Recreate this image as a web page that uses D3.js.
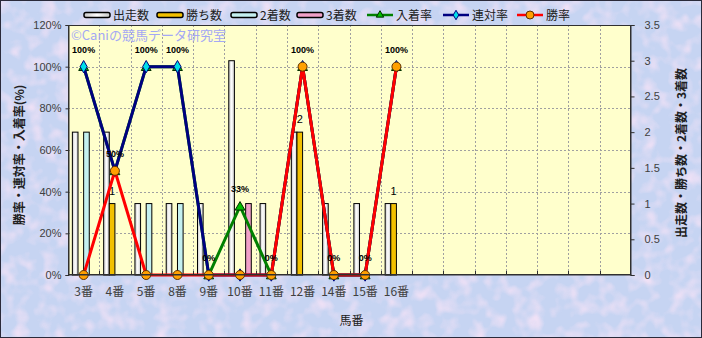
<!DOCTYPE html>
<html>
<head>
<meta charset="utf-8">
<script src="https://cdn.jsdelivr.net/npm/d3@7"></script>
<style>
  body { margin: 0; }
  svg text { font-family: "Liberation Sans", Arial, sans-serif; }
  .jp { font-family: "Noto Sans CJK JP", sans-serif; }
</style>
</head>
<body>
<div id="chart"></div>
<script>
// data
var categories = ["3番", "4番", "5番", "8番", "9番", "10番", "11番", "12番", "14番", "15番", "16番"];
var slotCount = 18;
var starts  = [2, 2, 1, 1, 1, 3, 1, 2, 1, 1, 1];   // 出走数
var wins    = [0, 1, 0, 0, 0, 0, 0, 2, 0, 0, 1];   // 勝ち数
var seconds = [2, 0, 1, 1, 0, 0, 0, 0, 0, 0, 0];   // 2着数
var thirds  = [0, 0, 0, 0, 0, 1, 0, 0, 0, 0, 0];   // 3着数
var placeRate = [100, 50, 100, 100, 0, 33, 0, 100, 0, 0, 100]; // 入着率
var quinRate  = [100, 50, 100, 100, 0, 0, 0, 100, 0, 0, 100];  // 連対率
var winRate   = [0, 50, 0, 0, 0, 0, 0, 100, 0, 0, 100];        // 勝率
var leftTicks = [0, 20, 40, 60, 80, 100, 120];
var rightTicks = [0, 0.5, 1, 1.5, 2, 2.5, 3, 3.5];

var W = 702, H = 338;
var plot = {l: 68, r: 631, t: 25, b: 275};

var svg = d3.select("#chart").append("svg")
  .attr("width", W).attr("height", H);

var defs = svg.append("defs");
var tex = defs.append("filter").attr("id", "tex").attr("x", 0).attr("y", 0).attr("width", 1).attr("height", 1);
tex.append("feTurbulence").attr("type", "fractalNoise").attr("baseFrequency", 0.07).attr("numOctaves", 2).attr("seed", 4);
tex.append("feColorMatrix").attr("type", "matrix")
  .attr("values", "0 0 0 0 0.96  0 0 0 0 0.78  0 0 0 0 0.93  2.2 0 0 0 -0.95");

var gWhite = defs.append("linearGradient").attr("id", "gw").attr("x1", 0).attr("x2", 1).attr("y1", 0).attr("y2", 0);
gWhite.append("stop").attr("offset", "0%").attr("stop-color", "#c8c8c8");
gWhite.append("stop").attr("offset", "50%").attr("stop-color", "#ffffff");
gWhite.append("stop").attr("offset", "100%").attr("stop-color", "#c8c8c8");

// background
svg.append("rect").attr("width", W).attr("height", H).attr("fill", "#c6d4f2");
svg.append("rect").attr("width", W).attr("height", H).attr("filter", "url(#tex)").attr("opacity", 0.8);
svg.append("rect").attr("x", 0.5).attr("y", 0.5).attr("width", W - 1).attr("height", H - 1)
  .attr("fill", "none").attr("stroke", "#2a2a3a");

svg.append("rect").attr("x", plot.l).attr("y", plot.t)
  .attr("width", plot.r - plot.l).attr("height", plot.b - plot.t)
  .attr("fill", "#ffffcc");

var x0 = d3.scaleBand().domain(d3.range(slotCount)).range([plot.l, plot.r]);
var bw = x0.bandwidth();
var x1 = d3.scaleBand().domain(d3.range(4)).range([bw * 0.14, bw * 0.86]);
var yL = d3.scaleLinear().domain([0, 120]).range([plot.b, plot.t]);
var yR = d3.scaleLinear().domain([0, 3.5]).range([plot.b, plot.t]);

// grid
svg.append("g").selectAll("line").data(leftTicks.slice(1, -1)).enter().append("line")
  .attr("x1", plot.l).attr("x2", plot.r)
  .attr("y1", function(d){ return Math.round(yL(d)) + 0.5; })
  .attr("y2", function(d){ return Math.round(yL(d)) + 0.5; })
  .attr("stroke", "#a0a0a0").attr("stroke-dasharray", "2,2");
svg.append("g").selectAll("line").data(d3.range(1, slotCount)).enter().append("line")
  .attr("y1", plot.t).attr("y2", plot.b)
  .attr("x1", function(d){ return Math.round(x0(d)) + 0.5; })
  .attr("x2", function(d){ return Math.round(x0(d)) + 0.5; })
  .attr("stroke", "#a0a0a0").attr("stroke-dasharray", "2,2");

// bars
var barSeries = [
  {name: "出走数", values: starts, fill: "url(#gw)"},
  {name: "勝ち数", values: wins, fill: "#f2c000"},
  {name: "2着数", values: seconds, fill: "#c4f0f0"},
  {name: "3着数", values: thirds, fill: "#f0a0c8"}
];
barSeries.forEach(function(s, si){
  svg.append("g").selectAll("rect")
    .data(s.values.map(function(v, i){ return {i: i, v: v}; }).filter(function(d){ return d.v > 0; }))
    .enter().append("rect")
      .attr("x", function(d){ return x0(d.i) + x1(si); })
      .attr("y", function(d){ return yR(d.v); })
      .attr("width", x1.bandwidth())
      .attr("height", function(d){ return plot.b - yR(d.v); })
      .attr("fill", s.fill)
      .attr("stroke", "#000").attr("stroke-width", 1);
});

// win count labels
svg.append("g").selectAll("text")
  .data(wins.map(function(v, i){ return {i: i, v: v}; }).filter(function(d){ return d.v > 0; }))
  .enter().append("text")
    .attr("x", function(d){ return x0(d.i) + x1(1) + x1.bandwidth() / 2; })
    .attr("y", function(d){ return yR(d.v) - 9; })
    .attr("text-anchor", "middle")
    .attr("font-size", 11).attr("fill", "#000")
    .text(function(d){ return d.v; });

// watermark
svg.append("text").attr("class", "jp")
  .attr("x", 71).attr("y", 40)
  .attr("font-size", 13).attr("fill", "#a4a8f4")
  .text("©Caniの競馬データ研究室");

// lines
function cx(i){ return x0(i) + bw / 2; }
var line = d3.line().x(function(d, i){ return cx(i); }).y(function(d){ return yL(d); });

var tri = d3.symbol().type(d3.symbolTriangle).size(42);
var dia = d3.symbol().type(d3.symbolDiamond).size(44);

svg.append("path").datum(placeRate).attr("d", line)
  .attr("fill", "none").attr("stroke", "#008000").attr("stroke-width", 3);
svg.append("g").selectAll("path").data(placeRate).enter().append("path")
  .attr("d", tri)
  .attr("transform", function(d, i){ return "translate(" + cx(i) + "," + (yL(d) + 1) + ")"; })
  .attr("fill", "#00c000").attr("stroke", "#003000").attr("stroke-width", 1);

svg.append("path").datum(quinRate).attr("d", line)
  .attr("fill", "none").attr("stroke", "#000080").attr("stroke-width", 3);
svg.append("g").selectAll("path").data(quinRate).enter().append("path")
  .attr("d", dia)
  .attr("transform", function(d, i){ return "translate(" + cx(i) + "," + yL(d) + ")"; })
  .attr("fill", "#00e0e8").attr("stroke", "#000080").attr("stroke-width", 1);

svg.append("path").datum(winRate).attr("d", line)
  .attr("fill", "none").attr("stroke", "#ff0000").attr("stroke-width", 3);
svg.append("g").selectAll("circle").data(winRate).enter().append("circle")
  .attr("cx", function(d, i){ return cx(i); })
  .attr("cy", function(d){ return yL(d); })
  .attr("r", 4.5)
  .attr("fill", "#ffa000").attr("stroke", "#603000").attr("stroke-width", 1);

// rate labels
svg.append("g").selectAll("text").data(placeRate).enter().append("text")
  .attr("x", function(d, i){ return cx(i); })
  .attr("y", function(d){ return yL(d) - 14; })
  .attr("text-anchor", "middle")
  .attr("font-size", 9).attr("font-weight", "bold").attr("fill", "#000")
  .text(function(d){ return d + "%"; });

// plot border
svg.append("rect").attr("x", plot.l + 0.5).attr("y", plot.t + 0.5)
  .attr("width", plot.r - plot.l - 1).attr("height", plot.b - plot.t - 1)
  .attr("fill", "none").attr("stroke", "#303030");

// axes
var axL = svg.append("g").attr("transform", "translate(" + (plot.l + 0.5) + ",0)")
  .call(d3.axisLeft(yL).tickValues(leftTicks).tickSize(3).tickFormat(function(d){ return d + "%"; }));
var axR = svg.append("g").attr("transform", "translate(" + (plot.r - 0.5) + ",0)")
  .call(d3.axisRight(yR).tickValues(rightTicks).tickSize(4).tickFormat(d3.format("")));
var labels = d3.range(slotCount).map(function(i){ return categories[i] || ""; });
var axB = svg.append("g").attr("transform", "translate(0," + (plot.b - 0.5) + ")")
  .call(d3.axisBottom(x0).tickSize(0).tickFormat(function(d){ return labels[d]; }));

[axL, axR, axB].forEach(function(a){
  a.select(".domain").attr("stroke", "#303030");
  a.selectAll(".tick line").attr("stroke", "#303030");
});
axL.selectAll("text").attr("font-size", 11).attr("fill", "#404040").attr("x", -7);
axR.selectAll("text").attr("font-size", 11).attr("fill", "#404040").attr("x", 14);
axB.selectAll("text").attr("class", "jp").attr("font-size", 12).attr("fill", "#404040").attr("dy", "1.5em");

// category boundary ticks on the bottom axis
svg.append("g").selectAll("line").data(d3.range(1, slotCount)).enter().append("line")
  .attr("x1", function(d){ return Math.round(x0(d)) + 0.5; })
  .attr("x2", function(d){ return Math.round(x0(d)) + 0.5; })
  .attr("y1", plot.b - 4).attr("y2", plot.b)
  .attr("stroke", "#303030");

// axis titles
svg.append("text").attr("class", "jp")
  .attr("transform", "translate(24," + ((plot.t + plot.b) / 2 + 5) + ") rotate(-90)")
  .attr("text-anchor", "middle").attr("font-size", 12).attr("font-weight", "bold").attr("fill", "#202020")
  .text("勝率・連対率・入着率(%)");
svg.append("text").attr("class", "jp")
  .attr("transform", "translate(686," + ((plot.t + plot.b) / 2 + 3) + ") rotate(-90)")
  .attr("text-anchor", "middle").attr("font-size", 12).attr("font-weight", "bold").attr("fill", "#202020")
  .text("出走数・勝ち数・2着数・3着数");
svg.append("text").attr("class", "jp")
  .attr("x", (plot.l + plot.r) / 2 + 2).attr("y", 325)
  .attr("text-anchor", "middle").attr("font-size", 12).attr("fill", "#202020")
  .text("馬番");

// legend
var legendItems = [
  {name: "出走数", type: "bar", fill: "url(#gw)", x: 84},
  {name: "勝ち数", type: "bar", fill: "#f2c000", x: 157},
  {name: "2着数", type: "bar", fill: "#c4f0f0", x: 231},
  {name: "3着数", type: "bar", fill: "#f0a0c8", x: 297},
  {name: "入着率", type: "tri", color: "#008000", x: 367},
  {name: "連対率", type: "dia", color: "#000080", x: 443},
  {name: "勝率", type: "dot", color: "#ff0000", x: 517}
];
var lg = svg.append("g");
legendItems.forEach(function(it){
  var g = lg.append("g").attr("transform", "translate(" + it.x + ",15)");
  if (it.type === "bar") {
    g.append("rect").attr("x", 0).attr("y", -2.5).attr("width", 26).attr("height", 5)
      .attr("rx", 2).attr("fill", it.fill).attr("stroke", "#000").attr("stroke-width", 1.5);
  } else {
    g.append("line").attr("x1", 0).attr("x2", 26).attr("y1", 0).attr("y2", 0)
      .attr("stroke", it.color).attr("stroke-width", 2.5);
    if (it.type === "tri") g.append("path").attr("d", d3.symbol().type(d3.symbolTriangle).size(24))
      .attr("transform", "translate(13,0)").attr("fill", "#00c000").attr("stroke", "#003000");
    if (it.type === "dia") g.append("path").attr("d", d3.symbol().type(d3.symbolDiamond).size(26))
      .attr("transform", "translate(13,0)").attr("fill", "#00e0e8").attr("stroke", "#000080");
    if (it.type === "dot") g.append("circle").attr("cx", 13).attr("cy", 0).attr("r", 4)
      .attr("fill", "#ffa000").attr("stroke", "#603000");
  }
  g.append("text").attr("class", "jp").attr("x", 29).attr("y", 5)
    .attr("font-size", 12).attr("fill", "#202020").text(it.name);
});
</script>
</body>
</html>
